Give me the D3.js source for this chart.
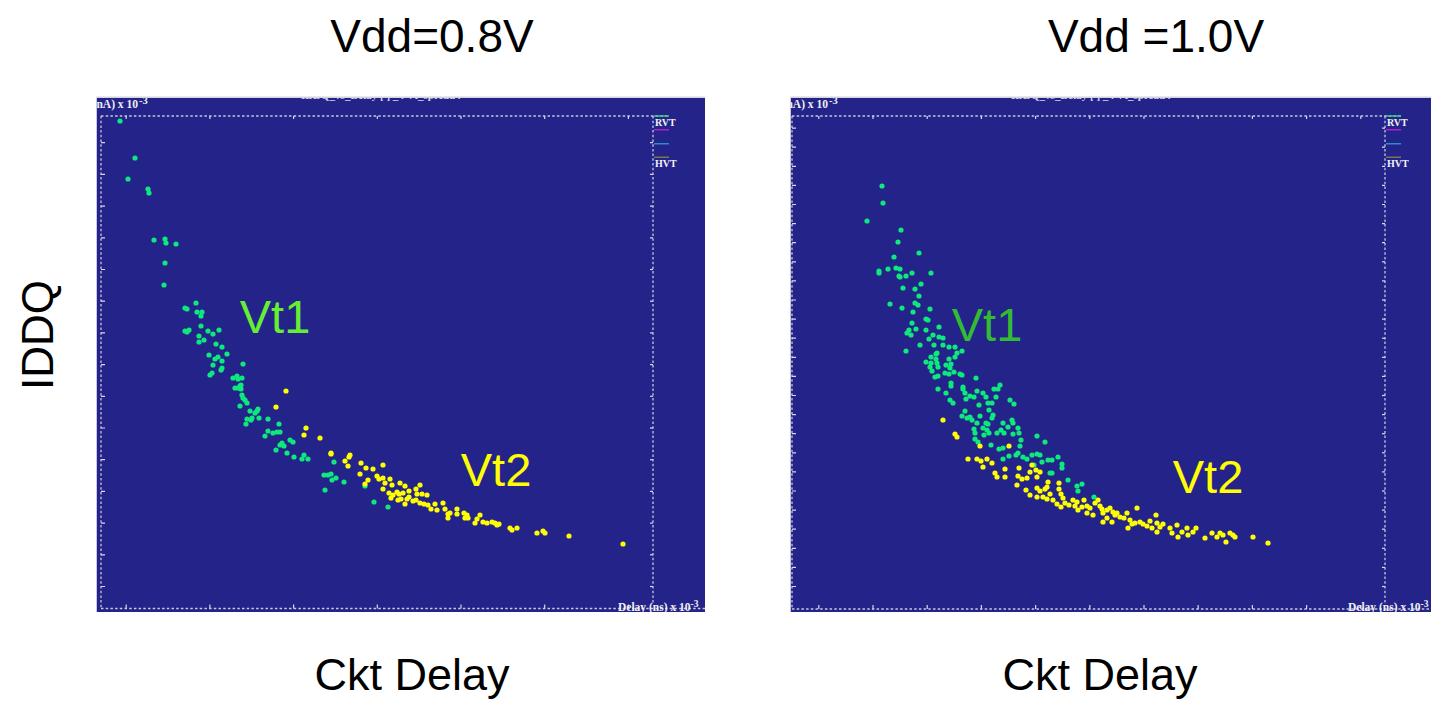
<!DOCTYPE html>
<html>
<head>
<meta charset="utf-8">
<script src="https://cdn.jsdelivr.net/npm/d3@7"></script>
<style>
  html, body { margin: 0; padding: 0; background: #ffffff; }
  svg { display: block; }
</style>
</head>
<body>
<svg id="chart" width="1431" height="702"></svg>
<script>
// ---------------- DATA (delay units, IDDQ units) ----------------
const panelTitles = ["Vdd=0.8V", "Vdd =1.0V"];
const xAxisTitle = "Ckt Delay";
const yAxisTitle = "IDDQ";
const legendNames = ["RVT", "", "", "HVT"];
const groupLabels = ["Vt1", "Vt2"];

// Vdd = 0.8 V : Vt1 (green) and Vt2 (yellow)
const lowVt1 = [
  [19,486],[34,449],[27,428],[47,418],[48,414],[53,367],[64,368],[65,364],[75,363],[64,344],[63,322],
  [95,304],[84,299],[86,298],[96,295],[101,295],[100,291],[100,281],[84,276],[86,275],[88,277],[107,276],
  [112,273],[118,277],[98,271],[98,265],[103,267],[115,263],[121,260],[126,253],[108,252],[114,248],
  [117,250],[121,246],[112,242],[121,239],[120,237],[111,234],[109,232],[142,243],[132,229],[136,231],
  [141,229],[137,228],[140,222],[134,219],[137,219],[139,221],[140,218],[141,212],[142,209],[144,207],
  [146,204],[139,201],[149,196],[154,194],[156,196],[157,198],[158,189],[146,188],[145,183],[150,187],
  [151,189],[167,188],[178,183],[167,176],[164,171],[172,174],[176,175],[179,175],[181,164],[179,162],
  [183,161],[189,167],[192,165],[175,157],[186,154],[193,150],[201,148],[207,148],[203,152],[233,145],
  [223,132],[227,132],[230,133],[231,127],[235,129],[243,125],[224,117],[264,121],[273,105],[287,100]
];
const lowVt2 = [
  [185,216],[175,200],[205,179],[203,172],[219,169],[230,154],[230,153],[244,146],[247,141],[248,150],
  [249,152],[260,144],[265,139],[272,138],[282,142],[259,133],[267,127],[264,123],[276,131],[278,128],
  [282,129],[284,124],[289,128],[291,122],[282,118],[299,124],[304,121],[319,122],[315,118],[308,116],
  [296,115],[298,113],[302,114],[292,112],[288,114],[290,109],[316,113],[321,113],[326,112],[308,110],
  [306,108],[300,108],[297,107],[312,106],[315,107],[319,104],[323,103],[327,102],[304,103],[334,103],
  [342,104],[330,98],[336,97],[344,98],[356,98],[347,93],[349,94],[347,89],[356,93],[363,94],[366,92],
  [367,89],[364,89],[379,92],[376,88],[374,84],[382,85],[386,84],[391,85],[394,84],[398,83],[396,82],
  [409,79],[411,77],[416,79],[436,74],[442,76],[444,74],[468,71],[522,63]
];

// Vdd = 1.0 V : Vt1 (green) and Vt2 (yellow)
const highVt1 = [
  [90,421],[91,404],[75,386],[109,377],[106,365],[127,354],[102,350],[87,336],[87,334],[96,338],[104,339],
  [108,338],[107,331],[108,330],[114,331],[120,334],[139,334],[129,323],[111,319],[123,318],[127,311],
  [98,303],[110,299],[123,304],[126,302],[121,295],[138,298],[134,288],[136,287],[120,284],[115,274],
  [117,277],[119,272],[124,278],[134,277],[147,280],[141,272],[147,270],[151,269],[137,268],[128,262],
  [114,256],[142,262],[151,262],[157,260],[163,260],[165,254],[170,256],[144,253],[145,254],[139,250],
  [144,248],[157,248],[163,250],[134,245],[139,244],[138,240],[145,244],[146,240],[154,242],[159,243],
  [158,239],[140,236],[143,230],[146,231],[153,234],[157,233],[162,235],[168,233],[170,232],[184,229],
  [159,224],[159,221],[146,218],[154,214],[171,220],[171,218],[173,214],[178,211],[182,210],[185,216],
  [191,214],[194,210],[202,218],[206,218],[204,210],[208,222],[158,207],[161,204],[174,208],[187,202],
  [196,204],[200,204],[218,207],[222,203],[170,191],[173,196],[175,189],[180,187],[178,190],[185,184],
  [188,191],[197,197],[201,192],[200,189],[194,184],[196,183],[211,184],[220,187],[221,184],[182,178],
  [183,174],[191,179],[195,177],[197,174],[192,172],[205,174],[209,177],[212,174],[216,180],[226,179],
  [221,173],[227,174],[229,167],[228,161],[183,168],[186,165],[199,162],[207,158],[211,159],[217,151],
  [224,152],[226,154],[231,150],[235,148],[245,171],[253,165],[240,152],[245,153],[248,152],[250,145],
  [256,147],[260,147],[266,150],[270,143],[270,139],[242,142],[211,148],[276,127],[285,121],[290,123],
  [286,116],[302,110],[258,134],[260,134]
];
const highVt2 = [
  [151,187],[163,173],[165,170],[188,161],[217,161],[176,148],[185,148],[189,146],[195,148],[200,144],
  [191,140],[203,134],[205,130],[213,138],[213,130],[226,131],[225,122],[227,139],[230,128],[235,129],
  [238,135],[240,142],[244,137],[245,130],[248,135],[234,117],[238,112],[245,119],[248,116],[253,118],
  [256,125],[255,120],[251,110],[245,110],[255,108],[258,113],[261,107],[267,118],[267,124],[269,113],
  [271,109],[265,103],[269,100],[273,104],[277,102],[281,107],[283,101],[285,105],[286,97],[290,100],
  [292,107],[295,101],[298,99],[295,94],[301,92],[303,104],[306,107],[308,101],[310,98],[311,94],
  [315,97],[318,99],[321,95],[323,92],[311,85],[315,89],[320,85],[325,94],[328,90],[332,89],[335,94],
  [338,87],[340,83],[336,79],[343,84],[345,99],[348,85],[351,83],[355,81],[358,86],[360,79],[364,92],
  [365,84],[368,80],[371,83],[378,79],[380,74],[385,82],[386,70],[390,75],[395,79],[396,72],[401,75],
  [404,79],[413,69],[420,74],[425,70],[428,74],[431,72],[434,65],[438,74],[441,72],[443,70],[461,70],
  [476,64],[365,75]
];

// axis tick positions (data units)
const lowXTicks = [24.7, 108.4, 192.1, 275.8, 359.5, 443.2, 526.9];
const lowYTicks = [21, 52.7, 84.4, 116.1, 147.8, 179.5, 211.2, 242.9, 274.6, 306.3, 338, 369.7, 401.4, 433.1, 464.8];
const highXTicks = [26.3, 80.5, 134.7, 188.9, 243.1, 297.3, 351.5, 405.7, 459.9, 514.1, 568.3];
const highYTicks = [21, 40.1, 59.2, 78.3, 97.4, 116.5, 135.6, 154.7, 173.8, 192.9, 212, 231.1, 250.2, 269.3, 288.4, 307.5, 326.6, 345.7, 364.8, 383.9, 403, 422.1, 441.2, 460.3, 479.4];

// ---------------- LAYOUT ----------------
const svg = d3.select("#chart");
const font = "'Liberation Sans', Arial, Helvetica, sans-serif";
const monoFont = "'Liberation Serif', 'DejaVu Serif', serif";
const bg = "#23238a";
const greenDot = "#0ee87c";
const yellowDot = "#ffff00";

const panels = [
  {
    box: [96.5, 98, 705, 612], frame: [101, 653, 116, 608.5],
    xDomain: [0, 552], yDomain: [0, 491],
    vt1: lowVt1, vt2: lowVt2, xTicks: lowXTicks, yTicks: lowYTicks,
    title: panelTitles[0], titleX: 432, xtitleX: 412,
    vt1Label: [275, 333, "#66ee33"], vt2Label: [496, 486, "#ffff00"],
    topLabelEnd: 138, botLabelStart: 618, legendX: 654
  },
  {
    box: [790.5, 98, 1431, 612], frame: [792, 1385, 116, 609],
    xDomain: [0, 593], yDomain: [0, 491],
    vt1: highVt1, vt2: highVt2, xTicks: highXTicks, yTicks: highYTicks,
    title: panelTitles[1], titleX: 1156, xtitleX: 1100,
    vt1Label: [987, 341, "#33bb33"], vt2Label: [1208, 493, "#ffff00"],
    topLabelEnd: 828, botLabelStart: 1348, legendX: 1386
  }
];

const defs = svg.append("defs");

panels.forEach((p, i) => {
  const [bx0, by0, bx1, by1] = p.box;
  const [fx0, fx1, fy0, fy1] = p.frame;
  const x = d3.scaleLinear().domain(p.xDomain).range([fx0, fx1]);
  const y = d3.scaleLinear().domain(p.yDomain).range([607, fy0]);

  defs.append("clipPath").attr("id", "clip" + i)
    .append("rect").attr("x", bx0).attr("y", by0).attr("width", bx1 - bx0).attr("height", by1 - by0);

  const g = svg.append("g").attr("clip-path", `url(#clip${i})`);

  // background
  g.append("rect").attr("x", bx0).attr("y", by0).attr("width", bx1 - bx0).attr("height", by1 - by0)
    .attr("fill", bg);
  svg.append("rect").attr("x", bx0).attr("y", by0 - 1.5).attr("width", bx1 - bx0).attr("height", 1.5)
    .attr("fill", "#d4d4dc");

  // clipped header title
  g.append("text").attr("x", (bx0 + bx1) / 2 - 20).attr("y", by0 + 0.5)
    .attr("text-anchor", "middle").attr("fill", "#d8d8e8")
    .attr("font-family", monoFont).attr("font-size", 11).attr("font-weight", "bold")
    .text("IDDQ_vs_Delay  [  ]  _ .  Vt_spread  . ");

  // dotted frame
  const dash = { stroke: "#c8c8d8", "stroke-width": 1.3, "stroke-dasharray": "2.5,2.2" };
  const lines = [
    [fx0, fy0, fx1 + 16, fy0],
    [fx0, fy0, fx0, fy1],
    [fx0, fy1, bx1, fy1],
    [fx1, fy0, fx1, fy1 - 5]
  ];
  lines.forEach(l => {
    const ln = g.append("line").attr("x1", l[0]).attr("y1", l[1]).attr("x2", l[2]).attr("y2", l[3]);
    Object.entries(dash).forEach(([k, v]) => ln.attr(k, v));
  });

  // tick marks through d3 axes
  const tickStyle = sel => {
    sel.select(".domain").remove();
    sel.selectAll(".tick line").attr("stroke", "#d8d8e4").attr("stroke-width", 1.2);
    sel.selectAll(".tick text").remove();
  };
  g.append("g").attr("transform", `translate(0,${fy0})`)
    .call(d3.axisBottom(x).tickValues(p.xTicks).tickSize(3)).call(tickStyle);
  g.append("g").attr("transform", `translate(0,${fy1})`)
    .call(d3.axisTop(x).tickValues(p.xTicks).tickSize(4)).call(tickStyle);
  g.append("g").attr("transform", `translate(${fx0},0)`)
    .call(d3.axisRight(y).tickValues(p.yTicks).tickSize(4)).call(tickStyle);
  g.append("g").attr("transform", `translate(${fx1},0)`)
    .call(d3.axisLeft(y).tickValues(p.yTicks).tickSize(3)).call(tickStyle);

  // top-left unit label
  g.append("text").attr("x", p.topLabelEnd).attr("y", by0 + 9.5)
    .attr("text-anchor", "end").attr("fill", "#f0f0f0")
    .attr("font-family", monoFont).attr("font-size", 11.5).attr("font-weight", "bold")
    .text("IDDQ (nA) x 10");
  g.append("text").attr("x", p.topLabelEnd + 1).attr("y", by0 + 5.5)
    .attr("fill", "#f0f0f0").attr("font-family", monoFont).attr("font-size", 10.5).attr("font-weight", "bold")
    .text("-3");

  // bottom-right unit label
  const bl = g.append("text").attr("x", p.botLabelStart).attr("y", fy1 + 2)
    .attr("fill", "#f0f0f0").attr("font-family", monoFont).attr("font-size", 11.5).attr("font-weight", "bold");
  bl.append("tspan").text("Delay (ns) x 10");
  bl.append("tspan").attr("dy", -4).attr("font-size", 9.5).text("-3");

  // legend
  const legColors = ["#3cc88a", "#b020c8", "#2a8ec8", "#787848"];
  const legY = [fy0, fy0 + 13.7, fy0 + 27.7, fy0 + 41.3];
  legColors.forEach((c, k) => {
    g.append("line").attr("x1", p.legendX).attr("x2", p.legendX + 15)
      .attr("y1", legY[k]).attr("y2", legY[k]).attr("stroke", c).attr("stroke-width", 1.6);
  });
  g.append("text").attr("x", p.legendX + 1).attr("y", legY[0] + 9.5)
    .attr("fill", "#f4f4f4").attr("font-family", monoFont).attr("font-size", 10).attr("font-weight", "bold")
    .text(legendNames[0]);
  g.append("text").attr("x", p.legendX + 1).attr("y", legY[3] + 9.5)
    .attr("fill", "#f4f4f4").attr("font-family", monoFont).attr("font-size", 10).attr("font-weight", "bold")
    .text(legendNames[3]);

  // points
  g.append("g").selectAll("circle").data(p.vt1).join("circle")
    .attr("cx", d => x(d[0])).attr("cy", d => y(d[1])).attr("r", 2.6).attr("fill", greenDot);
  g.append("g").selectAll("circle").data(p.vt2).join("circle")
    .attr("cx", d => x(d[0])).attr("cy", d => y(d[1])).attr("r", 2.6).attr("fill", yellowDot);

  // group labels
  svg.append("text").attr("x", p.vt1Label[0]).attr("y", p.vt1Label[1])
    .attr("text-anchor", "middle").attr("fill", p.vt1Label[2])
    .attr("font-family", font).attr("font-size", 47).text(groupLabels[0]);
  svg.append("text").attr("x", p.vt2Label[0]).attr("y", p.vt2Label[1])
    .attr("text-anchor", "middle").attr("fill", p.vt2Label[2])
    .attr("font-family", font).attr("font-size", 47).text(groupLabels[1]);

  // panel title and x title
  svg.append("text").attr("x", p.titleX).attr("y", 52).attr("text-anchor", "middle")
    .attr("fill", "#000").attr("font-family", font).attr("font-size", 46).text(p.title);
  svg.append("text").attr("x", p.xtitleX).attr("y", 690).attr("text-anchor", "middle")
    .attr("fill", "#000").attr("font-family", font).attr("font-size", 45).text(xAxisTitle);
});

// y axis title
svg.append("text").attr("transform", "translate(53,335) rotate(-90)")
  .attr("text-anchor", "middle").attr("fill", "#000")
  .attr("font-family", font).attr("font-size", 44).text(yAxisTitle);
</script>
</body>
</html>
